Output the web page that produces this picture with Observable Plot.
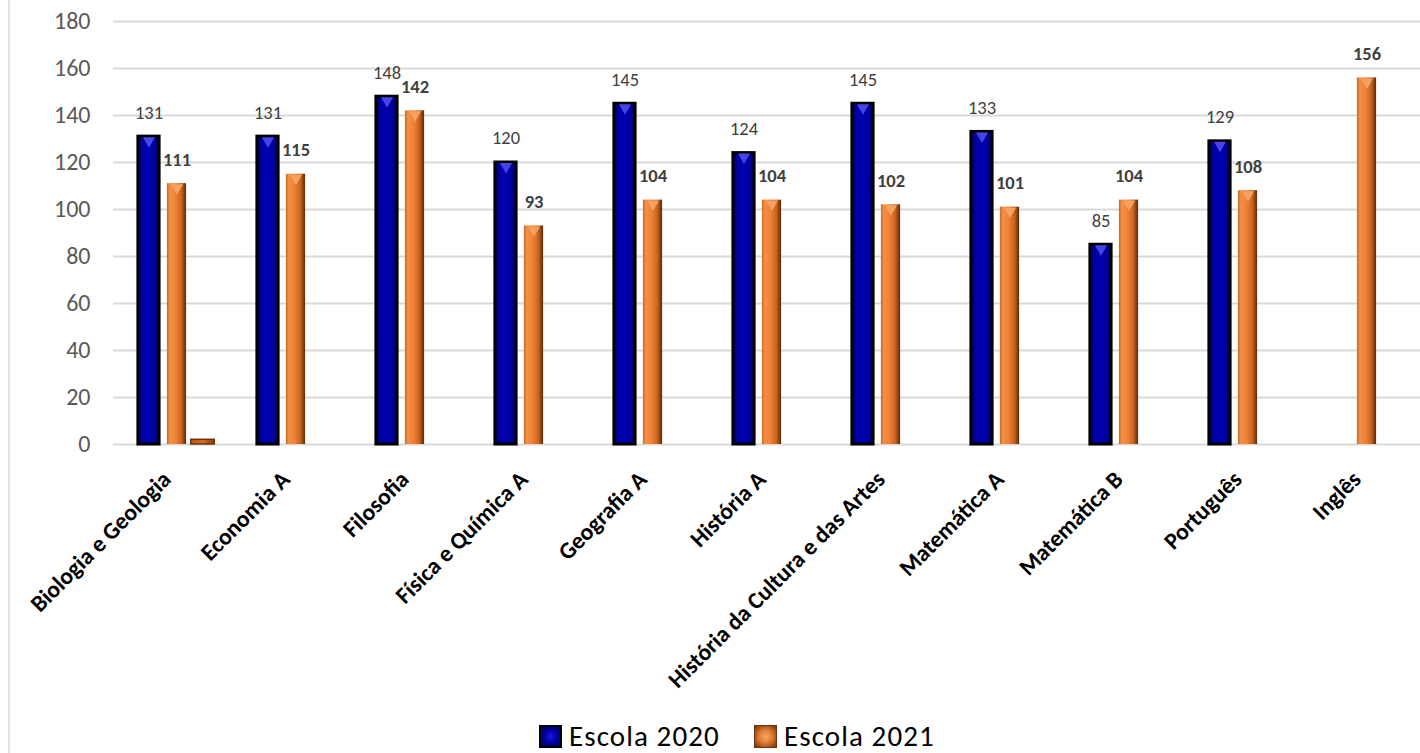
<!DOCTYPE html>
<html>
<head>
<meta charset="utf-8">
<script src="https://cdn.jsdelivr.net/npm/d3@7"></script>
<script src="https://cdn.jsdelivr.net/npm/@observablehq/plot@0.6"></script>
<style>
  html, body { margin: 0; padding: 0; background: #fff; }
  body { width: 1420px; height: 753px; position: relative; overflow: hidden; font-family: Carlito, Calibri, Lato, sans-serif; }
  #border { position: absolute; left: 8px; top: 0; width: 2px; height: 753px; background: #e3e3e3; }
  #chart { position: absolute; left: 0; top: 0; }
  #legend { position: absolute; top: 721px; left: 539px; height: 30px; line-height: 30px; display: flex; align-items: center; font-size: 29px; color: #000; letter-spacing: 1.1px; }
  .sw { width: 23px; height: 23px; display: inline-block; margin-right: 7px; box-sizing: border-box; flex: none; }
  .item { display: flex; align-items: center; white-space: nowrap; }
  .item:first-child { width: 215px; }
</style>
</head>
<body>
<div id="border"></div>
<div id="chart"></div>
<div id="legend"></div>
<script>
const categories = ["Biologia e Geologia", "Economia A", "Filosofia", "Física e Química A", "Geografia A", "História A", "História da Cultura e das Artes", "Matemática A", "Matemática B", "Português", "Inglês"];
const escola2020 = [131, 131, 148, 120, 145, 124, 145, 133, 85, 129, null];
const escola2021 = [111, 115, 142, 93, 104, 104, 102, 101, 104, 108, 156];
const extra = [2, null, null, null, null, null, null, null, null, null, null];
const yTicks = [0, 20, 40, 60, 80, 100, 120, 140, 160, 180];
const seriesNames = ["Escola 2020", "Escola 2021"];

const d20 = categories.map((c, i) => ({cat: c, v: escola2020[i]})).filter(d => d.v != null);
const d21 = categories.map((c, i) => ({cat: c, v: escola2021[i]})).filter(d => d.v != null);
const dEx = categories.map((c, i) => ({cat: c, v: extra[i]})).filter(d => d.v != null);

const OFF20 = 28;
const OFFEX = 26;
const FONT = "Carlito, Calibri, Lato, sans-serif";

const chart = Plot.plot({
  width: 1420,
  height: 700,
  marginLeft: 113,
  marginRight: 0,
  marginTop: 21,
  marginBottom: 256,
  style: {fontFamily: FONT, background: "transparent", overflow: "hidden"},
  x: {domain: categories, padding: 0, range: [113, 1430], axis: null},
  y: {domain: [0, 180], axis: null},
  marks: [
    Plot.ruleY(yTicks, {stroke: "#d9d9d9", strokeWidth: 2}),
    Plot.axisY({ticks: yTicks, tickSize: 0, tickPadding: 23, fontSize: 24, fill: "#595959", label: null}),
    Plot.axisX({tickRotate: -45, tickSize: 0, tickPadding: 31, dx: -10, fontSize: 23.5, fontWeight: "bold", fill: "#000", label: null}),
    // Escola 2020
    Plot.barY(d20, {x: "cat", y: "v", dx: -OFF20, insetLeft: 48.9, insetRight: 48.9, fill: "url(#gBlue)", stroke: "#000", strokeWidth: 3, style: "filter: drop-shadow(0 0 2px rgba(0,0,0,0.35))"}),
    Plot.dot(d20, {x: "cat", y: "v", dx: -OFF20, dy: 4, symbol: "triangle", rotate: 180, r: 4.5, fill: "#4646e6", stroke: null}),
    // Escola 2021
    Plot.barY(d21, {x: "cat", y: "v", insetLeft: 49.9, insetRight: 49.9, fill: "url(#gOrange)"}),
    Plot.dot(d21, {x: "cat", y: "v", dy: 4, symbol: "triangle", rotate: 180, r: 4.5, fill: "#f5a260", stroke: null}),
    // extra small bar
    Plot.barY(dEx, {x: "cat", y: "v", dx: OFFEX, insetLeft: 47.8, insetRight: 47.8, fill: "url(#gOrangeDark)", stroke: "#6e330a", strokeWidth: 1.5}),
    // labels
    Plot.text(d20, {x: "cat", y: "v", text: d => String(d.v), dx: -OFF20, dy: -24, fontSize: 18.5, fill: "#404040"}),
    Plot.text(d21, {x: "cat", y: "v", text: d => String(d.v), dy: -24, fontSize: 18.5, fontWeight: "bold", fill: "#404040"})
  ]
});

// gradients
const ns = "http://www.w3.org/2000/svg";
const defs = document.createElementNS(ns, "defs");
function grad(id, stops) {
  const g = document.createElementNS(ns, "linearGradient");
  g.setAttribute("id", id);
  g.setAttribute("x1", "0"); g.setAttribute("x2", "1"); g.setAttribute("y1", "0"); g.setAttribute("y2", "0");
  for (const [o, c] of stops) {
    const s = document.createElementNS(ns, "stop");
    s.setAttribute("offset", o); s.setAttribute("stop-color", c);
    g.appendChild(s);
  }
  defs.appendChild(g);
}
grad("gBlue", [[0, "#00005a"], [0.2, "#0000a0"], [0.5, "#0000b4"], [0.8, "#00009a"], [1, "#000050"]]);
grad("gOrange", [[0, "#c9681f"], [0.15, "#f39048"], [0.45, "#ef8136"], [0.75, "#c8651f"], [1, "#5a2a08"]]);
grad("gOrangeDark", [[0, "#b9561a"], [0.5, "#d96c25"], [1, "#8a3f10"]]);
chart.insertBefore(defs, chart.firstChild);
document.getElementById("chart").appendChild(chart);

// legend
const legend = document.getElementById("legend");
const swatchStyles = [
  "background: radial-gradient(circle, #1a1ae0 0%, #0000a8 45%, #00004a 100%); border: 2px solid #000;",
  "background: radial-gradient(circle, #f7a868 0%, #e07a30 45%, #6a320b 100%); border: 1px solid #6e330a;"
];
seriesNames.forEach((name, i) => {
  const it = document.createElement("div");
  it.className = "item";
  const sw = document.createElement("span");
  sw.className = "sw";
  sw.setAttribute("style", swatchStyles[i]);
  const t = document.createElement("span");
  t.textContent = name;
  it.appendChild(sw); it.appendChild(t);
  legend.appendChild(it);
});
</script>
</body>
</html>
